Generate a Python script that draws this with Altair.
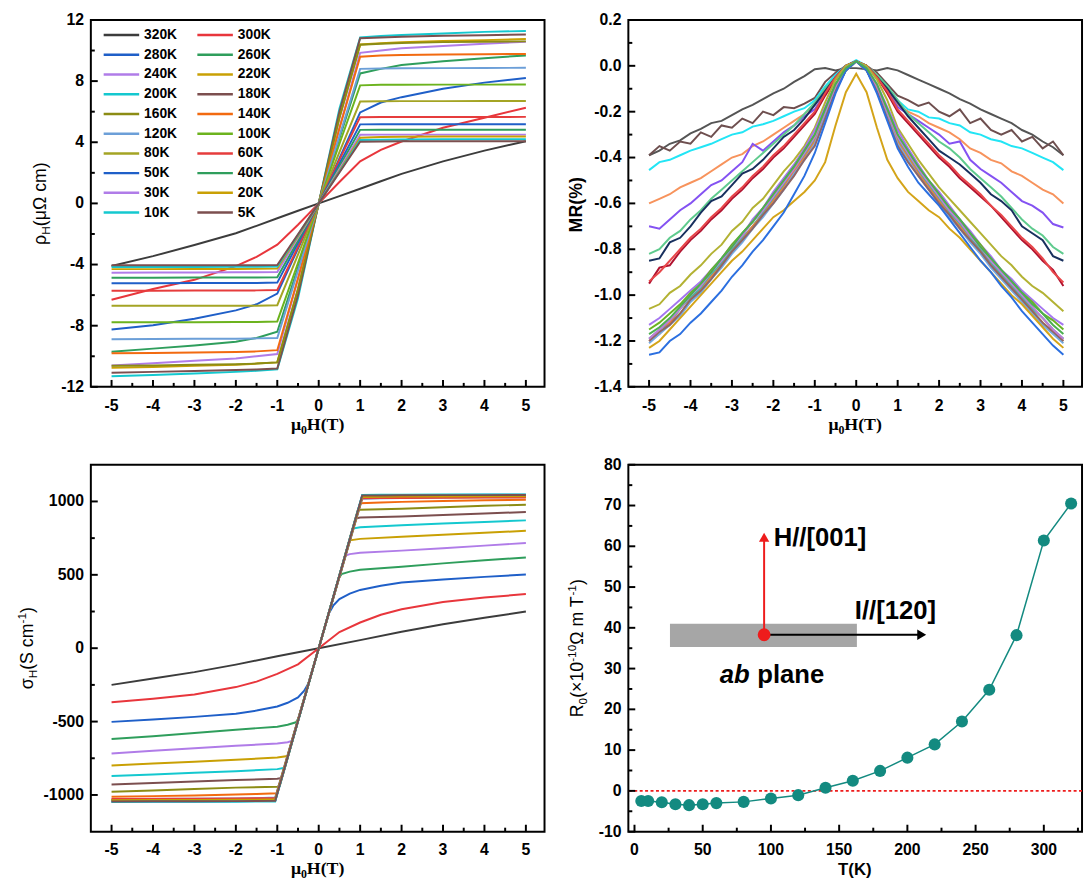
import altair as alt
import pandas as pd

SANS = "Liberation Sans"
SERIF = "Liberation Serif"

# ---------------- data ----------------
TEMPS = ["320K", "300K", "280K", "260K", "240K", "220K", "200K", "180K", "160K", "140K",
         "120K", "100K", "80K", "60K", "50K", "40K", "30K", "20K", "10K", "5K"]
COLORS = ["#3c3c3c", "#e8363c", "#1f5fc8", "#2f9e5c", "#b07ce8", "#c9a004", "#14c8cf", "#7c4f4f",
          "#8c8c14", "#f26a10", "#6c9fd8", "#6cb31e", "#a4a424", "#e63c3c", "#1f5fc8", "#2f9e5c",
          "#b07ce8", "#c9a004", "#14c8cf", "#7c4f4f"]

# rho_H (micro-ohm cm) vs field
H_RHO = [-5, -4, -3, -2, -1.5, -1, -0.5, 0, 0.5, 1, 1.5, 2, 3, 4, 5]
RHO = {
    "320K": [-4.10, -3.45, -2.72, -1.95, -1.47, -0.97, -0.48, 0, 0.48, 0.96, 1.45, 1.93, 2.75, 3.45, 4.07],
    "300K": [-6.30, -5.60, -5.00, -4.10, -3.50, -2.70, -1.40, 0, 1.40, 2.75, 3.50, 4.05, 4.95, 5.60, 6.26],
    "280K": [-8.25, -7.97, -7.55, -7.00, -6.60, -5.90, -2.95, 0, 2.95, 5.95, 6.60, 6.95, 7.50, 7.90, 8.20],
    "260K": [-9.70, -9.50, -9.30, -9.05, -8.80, -8.40, -4.20, 0, 4.25, 8.50, 8.80, 9.05, 9.30, 9.50, 9.68],
    "240K": [-10.60, -10.45, -10.30, -10.15, -10.00, -9.85, -4.95, 0, 4.95, 9.85, 10.00, 10.15, 10.30, 10.45, 10.58],
    "220K": [-10.75, -10.70, -10.62, -10.55, -10.48, -10.40, -5.60, 0, 5.60, 10.40, 10.48, 10.55, 10.62, 10.68, 10.75],
    "200K": [-11.30, -11.22, -11.12, -11.02, -10.95, -10.85, -6.20, 0, 6.20, 10.85, 10.95, 11.02, 11.12, 11.22, 11.28],
    "180K": [-11.08, -11.02, -10.96, -10.90, -10.86, -10.80, -6.00, 0, 6.00, 10.80, 10.85, 10.90, 10.96, 11.00, 11.05],
    "160K": [-10.62, -10.60, -10.56, -10.52, -10.48, -10.40, -5.60, 0, 5.60, 10.38, 10.45, 10.50, 10.55, 10.58, 10.60],
    "140K": [-9.80, -9.78, -9.75, -9.72, -9.68, -9.60, -4.90, 0, 4.90, 9.60, 9.68, 9.71, 9.74, 9.76, 9.78],
    "120K": [-8.88, -8.87, -8.86, -8.85, -8.83, -8.80, -4.40, 0, 4.40, 8.80, 8.82, 8.84, 8.85, 8.86, 8.87],
    "100K": [-7.78, -7.77, -7.77, -7.76, -7.76, -7.72, -3.90, 0, 3.90, 7.72, 7.76, 7.76, 7.77, 7.77, 7.78],
    "80K": [-6.70, -6.70, -6.70, -6.69, -6.69, -6.66, -3.35, 0, 3.35, 6.66, 6.68, 6.69, 6.69, 6.70, 6.70],
    "60K": [-5.72, -5.71, -5.70, -5.70, -5.69, -5.66, -2.85, 0, 2.85, 5.64, 5.65, 5.65, 5.65, 5.65, 5.66],
    "50K": [-5.22, -5.22, -5.21, -5.20, -5.20, -5.18, -2.60, 0, 2.60, 5.17, 5.18, 5.18, 5.18, 5.18, 5.18],
    "40K": [-4.86, -4.86, -4.85, -4.85, -4.85, -4.83, -2.42, 0, 2.42, 4.81, 4.82, 4.82, 4.82, 4.82, 4.82],
    "30K": [-4.53, -4.52, -4.52, -4.51, -4.51, -4.49, -2.25, 0, 2.25, 4.49, 4.50, 4.50, 4.50, 4.50, 4.50],
    "20K": [-4.30, -4.30, -4.29, -4.29, -4.28, -4.26, -2.14, 0, 2.14, 4.30, 4.34, 4.36, 4.37, 4.38, 4.38],
    "10K": [-4.16, -4.16, -4.16, -4.15, -4.15, -4.13, -2.07, 0, 2.07, 4.15, 4.17, 4.18, 4.19, 4.20, 4.20],
    "5K": [-4.05, -4.05, -4.05, -4.05, -4.04, -4.03, -2.02, 0, 2.02, 4.03, 4.05, 4.06, 4.06, 4.07, 4.07],
}

# MR (%) vs field
H_MR = [-5, -4.75, -4.5, -4.25, -4, -3.75, -3.5, -3.25, -3, -2.75, -2.5, -2.25, -2, -1.75, -1.5, -1.25,
        -1, -0.75, -0.5, -0.25, 0, 0.25, 0.5, 0.75, 1, 1.25, 1.5, 1.75, 2, 2.25, 2.5, 2.75, 3, 3.25,
        3.5, 3.75, 4, 4.25, 4.5, 4.75, 5]
MR_COLORS = ["#555555", "#6e4f4f", "#22e5f5", "#f7935c", "#8452f2", "#5fcb8e", "#18305e", "#b0122f",
             "#e8474a", "#b3b233", "#a475f0", "#6ab323", "#3fb7ad", "#f27d2e", "#74abe3", "#8f6666",
             "#c07ad8", "#d4a419", "#2b6fe0", "#4caf50"]
MR = {
    "320K": [-0.39, -0.37, -0.34, -0.325, -0.295, -0.275, -0.25, -0.24, -0.215, -0.19, -0.17, -0.145, -0.12, -0.1, -0.07, -0.045, -0.015, -0.01, -0.02, -0.01,
             -0.01, -0.015, -0.02, -0.01, -0.02, -0.04, -0.06, -0.08, -0.1, -0.12, -0.145, -0.165, -0.19, -0.21, -0.23, -0.25, -0.28, -0.3, -0.33, -0.355, -0.39],
    "300K": [-0.39, -0.35, -0.37, -0.33, -0.34, -0.29, -0.31, -0.26, -0.27, -0.23, -0.25, -0.2, -0.215, -0.18, -0.185, -0.165, -0.14, -0.07, -0.03, 0.0,
             0.02, 0.0, -0.03, -0.08, -0.13, -0.15, -0.175, -0.16, -0.2, -0.22, -0.19, -0.25, -0.23, -0.28, -0.3, -0.28, -0.33, -0.31, -0.36, -0.33, -0.39],
    "280K": [-0.455, -0.42, -0.41, -0.39, -0.37, -0.355, -0.34, -0.32, -0.3, -0.29, -0.265, -0.255, -0.24, -0.22, -0.2, -0.185, -0.15, -0.09, -0.04, 0.0,
             0.025, 0.0, -0.04, -0.09, -0.15, -0.19, -0.2, -0.225, -0.23, -0.25, -0.26, -0.29, -0.3, -0.32, -0.33, -0.35, -0.36, -0.38, -0.4, -0.42, -0.455],
    "260K": [-0.6, -0.58, -0.56, -0.53, -0.51, -0.49, -0.46, -0.43, -0.4, -0.385, -0.35, -0.33, -0.3, -0.27, -0.24, -0.21, -0.17, -0.11, -0.05, 0.0,
             0.02, 0.0, -0.04, -0.1, -0.17, -0.2, -0.22, -0.25, -0.27, -0.29, -0.32, -0.36, -0.38, -0.41, -0.425, -0.46, -0.48, -0.51, -0.54, -0.56, -0.6],
    "240K": [-0.7, -0.71, -0.67, -0.63, -0.6, -0.56, -0.52, -0.5, -0.46, -0.42, -0.34, -0.37, -0.33, -0.29, -0.26, -0.22, -0.19, -0.12, -0.05, 0.0,
             0.02, 0.0, -0.05, -0.11, -0.18, -0.21, -0.24, -0.27, -0.3, -0.34, -0.33, -0.41, -0.45, -0.48, -0.51, -0.55, -0.59, -0.61, -0.64, -0.69, -0.705],
    "220K": [-0.82, -0.8, -0.75, -0.72, -0.67, -0.63, -0.58, -0.54, -0.5, -0.46, -0.42, -0.38, -0.34, -0.3, -0.26, -0.21, -0.16, -0.1, -0.05, 0.0,
             0.02, 0.0, -0.04, -0.09, -0.15, -0.21, -0.25, -0.29, -0.33, -0.36, -0.4, -0.45, -0.49, -0.53, -0.57, -0.62, -0.67, -0.71, -0.74, -0.79, -0.82],
    "200K": [-0.85, -0.84, -0.77, -0.75, -0.7, -0.64, -0.59, -0.57, -0.52, -0.47, -0.45, -0.41, -0.36, -0.31, -0.28, -0.23, -0.17, -0.11, -0.05, 0.0,
             0.02, 0.0, -0.05, -0.1, -0.16, -0.22, -0.27, -0.32, -0.37, -0.4, -0.43, -0.47, -0.51, -0.56, -0.59, -0.63, -0.7, -0.73, -0.76, -0.83, -0.85],
    "180K": [-0.95, -0.88, -0.87, -0.81, -0.76, -0.72, -0.67, -0.63, -0.58, -0.54, -0.49, -0.45, -0.4, -0.36, -0.31, -0.26, -0.21, -0.13, -0.06, 0.0,
             0.02, 0.0, -0.05, -0.12, -0.2, -0.25, -0.3, -0.35, -0.4, -0.44, -0.49, -0.53, -0.57, -0.61, -0.66, -0.71, -0.76, -0.8, -0.85, -0.89, -0.96],
    "160K": [-0.94, -0.9, -0.85, -0.8, -0.75, -0.71, -0.66, -0.62, -0.57, -0.53, -0.48, -0.44, -0.39, -0.35, -0.3, -0.25, -0.2, -0.12, -0.05, 0.0,
             0.02, 0.0, -0.05, -0.11, -0.19, -0.24, -0.29, -0.34, -0.39, -0.43, -0.48, -0.52, -0.56, -0.61, -0.65, -0.7, -0.75, -0.79, -0.84, -0.9, -0.945],
    "140K": [-1.06, -1.04, -0.99, -0.96, -0.91, -0.87, -0.82, -0.78, -0.72, -0.68, -0.62, -0.58, -0.52, -0.46, -0.41, -0.35, -0.27, -0.16, -0.06, 0.0,
             0.02, 0.0, -0.06, -0.15, -0.27, -0.34, -0.41, -0.47, -0.53, -0.58, -0.63, -0.68, -0.73, -0.78, -0.83, -0.87, -0.92, -0.96, -0.99, -1.03, -1.07],
    "120K": [-1.13, -1.1, -1.06, -1.02, -0.98, -0.94, -0.89, -0.84, -0.78, -0.74, -0.67, -0.62, -0.55, -0.49, -0.43, -0.36, -0.28, -0.18, -0.08, -0.01,
             0.02, -0.01, -0.08, -0.18, -0.28, -0.36, -0.43, -0.5, -0.55, -0.61, -0.67, -0.72, -0.78, -0.83, -0.89, -0.93, -0.98, -1.02, -1.06, -1.1, -1.13],
    "100K": [-1.15, -1.12, -1.08, -1.04, -0.99, -0.95, -0.89, -0.84, -0.78, -0.73, -0.68, -0.62, -0.56, -0.5, -0.44, -0.37, -0.3, -0.19, -0.08, -0.01,
             0.02, -0.01, -0.09, -0.19, -0.3, -0.38, -0.45, -0.5, -0.56, -0.62, -0.67, -0.73, -0.78, -0.84, -0.89, -0.94, -0.99, -1.03, -1.08, -1.11, -1.15],
    "80K": [-1.19, -1.15, -1.12, -1.06, -1.01, -0.97, -0.91, -0.86, -0.8, -0.75, -0.7, -0.64, -0.58, -0.52, -0.45, -0.39, -0.32, -0.21, -0.1, -0.02,
            0.02, -0.02, -0.1, -0.2, -0.32, -0.39, -0.46, -0.52, -0.58, -0.64, -0.69, -0.75, -0.8, -0.86, -0.91, -0.96, -1.01, -1.06, -1.1, -1.15, -1.19],
    "60K": [-1.2, -1.17, -1.12, -1.08, -1.02, -0.98, -0.92, -0.87, -0.81, -0.76, -0.7, -0.65, -0.59, -0.53, -0.46, -0.4, -0.33, -0.22, -0.1, -0.02,
            0.02, -0.02, -0.1, -0.21, -0.33, -0.4, -0.47, -0.53, -0.59, -0.65, -0.7, -0.76, -0.81, -0.87, -0.92, -0.97, -1.02, -1.07, -1.12, -1.16, -1.2],
    "50K": [-1.21, -1.17, -1.13, -1.09, -1.03, -0.99, -0.93, -0.88, -0.82, -0.77, -0.71, -0.66, -0.6, -0.54, -0.47, -0.41, -0.34, -0.22, -0.1, -0.02,
            0.02, -0.02, -0.11, -0.22, -0.34, -0.41, -0.48, -0.54, -0.6, -0.66, -0.71, -0.77, -0.82, -0.88, -0.93, -0.98, -1.03, -1.08, -1.13, -1.17, -1.21],
    "40K": [-1.2, -1.16, -1.13, -1.08, -1.02, -0.98, -0.93, -0.87, -0.81, -0.76, -0.71, -0.65, -0.6, -0.54, -0.48, -0.41, -0.35, -0.23, -0.11, -0.02,
            0.02, -0.02, -0.11, -0.23, -0.35, -0.42, -0.48, -0.54, -0.6, -0.65, -0.71, -0.76, -0.81, -0.87, -0.92, -0.97, -1.02, -1.07, -1.12, -1.16, -1.2],
    "30K": [-1.19, -1.15, -1.11, -1.06, -1.0, -0.96, -0.9, -0.85, -0.79, -0.74, -0.68, -0.63, -0.57, -0.51, -0.45, -0.38, -0.31, -0.2, -0.09, -0.01,
            0.02, -0.01, -0.09, -0.2, -0.31, -0.38, -0.45, -0.51, -0.57, -0.63, -0.68, -0.74, -0.79, -0.85, -0.9, -0.95, -1.0, -1.05, -1.1, -1.15, -1.19],
    "20K": [-1.23, -1.2, -1.15, -1.1, -1.05, -1.0, -0.95, -0.9, -0.85, -0.81, -0.76, -0.71, -0.66, -0.63, -0.59, -0.55, -0.5, -0.42, -0.26, -0.115,
            -0.035, -0.115, -0.27, -0.41, -0.49, -0.55, -0.59, -0.63, -0.66, -0.71, -0.75, -0.8, -0.85, -0.9, -0.95, -1.0, -1.04, -1.09, -1.14, -1.19, -1.23],
    "10K": [-1.26, -1.25, -1.2, -1.17, -1.12, -1.08, -1.03, -0.98, -0.92, -0.87, -0.81, -0.76, -0.7, -0.64, -0.56, -0.48, -0.38, -0.25, -0.12, -0.02,
            0.02, -0.02, -0.12, -0.24, -0.36, -0.44, -0.51, -0.56, -0.61, -0.67, -0.73, -0.79, -0.85, -0.9, -0.96, -1.01, -1.07, -1.12, -1.17, -1.22, -1.26],
    "5K": [-1.17, -1.14, -1.1, -1.05, -1.0, -0.95, -0.9, -0.84, -0.79, -0.73, -0.68, -0.62, -0.56, -0.5, -0.44, -0.37, -0.3, -0.19, -0.08, -0.01,
           0.02, -0.01, -0.08, -0.19, -0.3, -0.37, -0.44, -0.5, -0.56, -0.62, -0.67, -0.73, -0.79, -0.84, -0.89, -0.94, -0.99, -1.04, -1.08, -1.13, -1.17],
}

# sigma_H (S/cm) vs field; each curve has its own field points (knee positions differ)
SIG_H = {
    "320K": [-5, -4, -3, -2, -1, 0, 1, 2, 3, 4, 5],
    "300K": [-5, -4, -3, -2, -1.5, -1, -0.5, 0, 0.5, 1, 1.5, 2, 3, 4, 5],
    "280K": [-5, -4, -3, -2, -1.5, -1, -0.75, -0.5, -0.35, -0.25, 0, 0.25, 0.35, 0.5, 0.75, 1, 1.5, 2, 3, 4, 5],
    "260K": [-5, -4, -3, -2, -1, -0.75, -0.55, -0.48, 0, 0.48, 0.55, 0.75, 1, 2, 3, 4, 5],
    "240K": [-5, -4, -3, -2, -1, -0.75, -0.65, 0, 0.65, 0.75, 1, 2, 3, 4, 5],
    "220K": [-5, -4, -3, -2, -1, -0.75, 0, 0.75, 1, 2, 3, 4, 5],
    "200K": [-5, -4, -3, -2, -1, -0.82, 0, 0.82, 1, 2, 3, 4, 5],
    "180K": [-5, -4, -3, -2, -1, -0.89, 0, 0.89, 1, 2, 3, 4, 5],
    "160K": [-5, -4, -3, -2, -1, -0.94, 0, 0.94, 1, 2, 3, 4, 5],
    "140K": [-5, -4, -3, -2, -1.5, -1.0, 0, 1.0, 1.5, 2, 3, 4, 5],
}
for _t in ["120K", "100K", "80K", "60K", "50K", "40K", "30K", "20K", "10K", "5K"]:
    SIG_H[_t] = [-5, -4, -3, -2, -1.5, -1.05, 0, 1.05, 1.5, 2, 3, 4, 5]
SIG_V = {
    "320K": [-250, -207, -163, -112, -55, 0, 55, 112, 163, 207, 250],
    "300K": [-369, -345, -315, -265, -228, -175, -110, 0, 110, 175, 228, 265, 315, 345, 369],
    "280K": [-502, -486, -468, -447, -425, -397, -372, -335, -290, -240, 0, 240, 290, 335, 372, 397, 425, 447, 468, 486, 502],
    "260K": [-618, -600, -578, -555, -535, -522, -505, -475, 0, 475, 505, 522, 535, 555, 578, 600, 618],
    "240K": [-717, -699, -681, -665, -650, -641, -632, 0, 632, 641, 650, 665, 681, 699, 717],
    "220K": [-800, -786, -773, -760, -745, -735, 0, 735, 745, 760, 773, 786, 800],
    "200K": [-871, -860, -849, -838, -824, -815, 0, 815, 824, 838, 849, 860, 871],
    "180K": [-928, -918, -908, -898, -890, -884, 0, 884, 890, 898, 908, 918, 928],
    "160K": [-978, -970, -960, -950, -944, -938, 0, 938, 944, 950, 960, 970, 978],
    "140K": [-1012, -1008, -1003, -997, -993, -988, 0, 988, 993, 997, 1003, 1008, 1012],
    "120K": [-1030, -1028, -1026, -1024, -1022, -1018, 0, 1018, 1022, 1024, 1026, 1028, 1030],
    "100K": [-1036, -1035, -1034, -1033, -1032, -1030, 0, 1030, 1032, 1033, 1034, 1035, 1036],
    "80K": [-1042, -1041, -1040, -1039, -1038, -1036, 0, 1036, 1038, 1039, 1040, 1041, 1042],
    "60K": [-1027, -1026, -1025, -1024, -1023, -1022, 0, 1022, 1023, 1024, 1025, 1026, 1027],
    "50K": [-1046, -1045, -1044, -1043, -1042, -1040, 0, 1040, 1042, 1043, 1044, 1045, 1046],
    "40K": [-1040, -1039, -1038, -1037, -1036, -1034, 0, 1034, 1036, 1037, 1038, 1039, 1040],
    "30K": [-1044, -1043, -1042, -1041, -1040, -1038, 0, 1038, 1040, 1041, 1042, 1043, 1044],
    "20K": [-1036, -1035, -1034, -1033, -1032, -1030, 0, 1030, 1032, 1033, 1034, 1035, 1036],
    "10K": [-1048, -1047, -1047, -1046, -1045, -1044, 0, 1044, 1045, 1046, 1047, 1047, 1048],
    "5K": [-1044, -1043, -1043, -1042, -1041, -1040, 0, 1040, 1041, 1042, 1043, 1043, 1044],
}

# R0 vs T
T_R0 = [5, 10, 20, 30, 40, 50, 60, 80, 100, 120, 140, 160, 180, 200, 220, 240, 260, 280, 300, 320]
R0 = [-2.5, -2.5, -2.8, -3.3, -3.5, -3.3, -3.0, -2.7, -1.85, -1.05, 0.75, 2.5, 4.9, 8.15, 11.4, 17.0,
      24.8, 38.2, 61.4, 70.5]

# tick values / labels
XMAJ = [-5, -4, -3, -2, -1, 0, 1, 2, 3, 4, 5]
XMIN = [-4.5, -3.5, -2.5, -1.5, -0.5, 0.5, 1.5, 2.5, 3.5, 4.5]
Y1MAJ = [-12, -8, -4, 0, 4, 8, 12]
Y1MIN = [-10, -6, -2, 2, 6, 10]
Y2MAJ = [-1.4, -1.2, -1.0, -0.8, -0.6, -0.4, -0.2, 0.0, 0.2]
Y2MIN = [-1.3, -1.1, -0.9, -0.7, -0.5, -0.3, -0.1, 0.1]
Y3MAJ = [-1000, -500, 0, 500, 1000]
Y3MIN = [-750, -250, 250, 750]
X4MAJ = [0, 50, 100, 150, 200, 250, 300]
X4MIN = [25, 75, 125, 175, 225, 275, 325]
Y4MAJ = [-10, 0, 10, 20, 30, 40, 50, 60, 70, 80]
Y4MIN = [-5, 5, 15, 25, 35, 45, 55, 65, 75]

# ---------------- helpers ----------------
W, HT = 460, 372
CW = {' ': 278, '(': 333, ')': 333, '-': 333, '%': 889, '×': 584, 'μ': 576, 'Ω': 768, 'ρ': 575,
      'σ': 620, 'c': 500, 'm': 833, 'H': 722, 'S': 667, 'T': 611, 'R': 722, 'M': 833, 'K': 667}
CW_SERIF = {'μ': 556, 'H': 778, '(': 333, ')': 333, 'T': 667, '0': 500}


def tw(s, size, serif=False, bold=False):
    table = CW_SERIF if serif else CW
    w = sum(table.get(ch, 556) for ch in s) * size / 1000.0
    return w * (1.05 if (bold and not serif) else 1.0)


def title_layers(pieces, cx, cy, vertical):
    """pieces: (text, size, shift, serif, bold)"""
    widths = [tw(p[0], p[1], p[3], p[4]) for p in pieces]
    total = sum(widths)
    pos = -total / 2.0
    out = []
    for (txt, size, shift, serif, bold), w in zip(pieces, widths):
        mk = alt.Chart(pd.DataFrame({"t": [txt]})).mark_text(
            align="left", baseline="middle", angle=270 if vertical else 0, dy=shift,
            font=SERIF if serif else SANS, fontSize=size,
            fontWeight="bold" if bold else "normal", color="black")
        if vertical:
            enc = dict(x=alt.value(cx), y=alt.value(cy - pos))
        else:
            enc = dict(x=alt.value(cx + pos), y=alt.value(cy))
        out.append(mk.encode(text="t:N", **enc))
        pos += w
    return out


def frame_layers(xsc, ysc, xmaj, xmin, ymaj, ymin, xfmt, yfmt, xlab_y):
    """inward major/minor ticks and bold tick labels"""
    out = []
    for vals, L in ((xmaj, 7), (xmin, 4)):
        out.append(alt.Chart(pd.DataFrame({"v": vals})).mark_rule(color="black", strokeWidth=2).encode(
            x=alt.X("v:Q", scale=xsc, axis=None), y=alt.value(HT), y2=alt.value(HT - L)))
    for vals, L in ((ymaj, 7), (ymin, 4)):
        out.append(alt.Chart(pd.DataFrame({"v": vals})).mark_rule(color="black", strokeWidth=2).encode(
            y=alt.Y("v:Q", scale=ysc, axis=None), x=alt.value(0), x2=alt.value(L)))
    out.append(alt.Chart(pd.DataFrame({"v": xmaj, "s": [xfmt(v) for v in xmaj]})).mark_text(
        align="center", baseline="top", font=SANS, fontSize=16, fontWeight="bold", color="black").encode(
        x=alt.X("v:Q", scale=xsc, axis=None), y=alt.value(HT + xlab_y), text="s:N"))
    out.append(alt.Chart(pd.DataFrame({"v": ymaj, "s": [yfmt(v) for v in ymaj]})).mark_text(
        align="right", baseline="middle", font=SANS, fontSize=16, fontWeight="bold", color="black").encode(
        y=alt.Y("v:Q", scale=ysc, axis=None), x=alt.value(-7), text="s:N"))
    return out


def fint(v):
    return str(int(round(v)))


def f1(v):
    return "%.1f" % v


def mu0h_title(dy_below):
    return title_layers([("μ", 18, 0, True, True), ("0", 12, 5, True, True), ("H(T)", 18, 0, True, True)],
                        W / 2, HT + dy_below, False)


XH = alt.Scale(domain=[-5.5, 5.45], nice=False, zero=False)

# ---------------- panel 1: rho_H ----------------
rows = []
for t in TEMPS:
    for h, v in zip(H_RHO, RHO[t]):
        rows.append({"H": h, "v": v, "T": t})
df_rho = pd.DataFrame(rows)
Y1 = alt.Scale(domain=[-12, 12], nice=False, zero=False)
C1 = alt.Scale(domain=TEMPS, range=COLORS)
lines1 = alt.Chart(df_rho).mark_line(strokeWidth=2).encode(
    x=alt.X("H:Q", scale=XH, axis=None), y=alt.Y("v:Q", scale=Y1, axis=None),
    color=alt.Color("T:N", scale=C1, legend=None))


# legend (two columns, read row by row) laid out in pixels, mapped into the panel's data units
def px_h(px):
    return -5.5 + px * 10.95 / W


def py_rho(py):
    return 12 - py * 24.0 / HT


leg_rows = [i // 2 for i in range(len(TEMPS))]
leg_cols = [i % 2 for i in range(len(TEMPS))]
df_leg = pd.DataFrame({
    "T": TEMPS,
    "x1": [px_h(13 + 95 * c) for c in leg_cols],
    "x2": [px_h(49 + 95 * c) for c in leg_cols],
    "xt": [px_h(54 + 95 * c) for c in leg_cols],
    "y": [py_rho(15.3 + 20 * r) for r in leg_rows],
})
leg_sym = alt.Chart(df_leg).mark_rule(strokeWidth=2.5).encode(
    x=alt.X("x1:Q", scale=XH, axis=None), x2="x2:Q", y=alt.Y("y:Q", scale=Y1, axis=None),
    color=alt.Color("T:N", scale=C1, legend=None))
leg_txt = alt.Chart(df_leg).mark_text(align="left", baseline="middle", font=SANS, fontSize=14,
                                       fontWeight="bold", color="black").encode(
    x=alt.X("xt:Q", scale=XH, axis=None), y=alt.Y("y:Q", scale=Y1, axis=None), text="T:N")

p1 = alt.layer(
    lines1, leg_sym, leg_txt,
    *frame_layers(XH, Y1, XMAJ, XMIN, Y1MAJ, Y1MIN, fint, fint, 11),
    *title_layers([("ρ", 18, 0, False, False), ("H", 12, 5, False, False), ("(μΩ cm)", 18, 0, False, False)],
                  -50, HT / 2, True),
    *mu0h_title(39),
).properties(width=W, height=HT)

# ---------------- panel 2: MR ----------------
rows = []
for t in TEMPS:
    for h, v in zip(H_MR, MR[t]):
        rows.append({"H": h, "v": v, "T": t})
df_mr = pd.DataFrame(rows)
Y2 = alt.Scale(domain=[-1.4, 0.2], nice=False, zero=False)
lines2 = alt.Chart(df_mr).mark_line(strokeWidth=2).encode(
    x=alt.X("H:Q", scale=XH, axis=None), y=alt.Y("v:Q", scale=Y2, axis=None),
    color=alt.Color("T:N", scale=alt.Scale(domain=TEMPS, range=MR_COLORS), legend=None))
p2 = alt.layer(
    lines2,
    *frame_layers(XH, Y2, XMAJ, XMIN, Y2MAJ, Y2MIN, fint, f1, 11),
    *title_layers([("MR(%)", 18, 0, False, True)], -52, HT / 2, True),
    *mu0h_title(39),
).properties(width=W, height=HT)

# ---------------- panel 3: sigma_H ----------------
rows = []
for t in TEMPS:
    for h, v in zip(SIG_H[t], SIG_V[t]):
        rows.append({"H": h, "v": v, "T": t})
df_sig = pd.DataFrame(rows)
Y3 = alt.Scale(domain=[-1250, 1250], nice=False, zero=False)
lines3 = alt.Chart(df_sig).mark_line(strokeWidth=2).encode(
    x=alt.X("H:Q", scale=XH, axis=None), y=alt.Y("v:Q", scale=Y3, axis=None),
    color=alt.Color("T:N", scale=alt.Scale(domain=TEMPS, range=COLORS), legend=None))
p3 = alt.layer(
    lines3,
    *frame_layers(XH, Y3, XMAJ, XMIN, Y3MAJ, Y3MIN, fint, fint, 11),
    *title_layers([("σ", 18, 0, False, False), ("H", 12, 5, False, False), ("(S cm", 18, 0, False, False),
                   ("-1", 12, -6, False, False), (")", 18, 0, False, False)], -64, HT / 2, True),
    *mu0h_title(38),
).properties(width=W, height=HT)

# ---------------- panel 4: R0 vs T ----------------
TEAL = "#138a80"
RED = "#ee1c1c"
X4 = alt.Scale(domain=[-4.5, 328], nice=False, zero=False)
Y4 = alt.Scale(domain=[-10, 80], nice=False, zero=False)
df_r0 = pd.DataFrame({"T": T_R0, "R0": R0})
zero_line = alt.Chart(pd.DataFrame({"z": [0]})).mark_rule(color=RED, strokeWidth=2, strokeDash=[3, 2.5]).encode(
    y=alt.Y("z:Q", scale=Y4, axis=None))
line4 = alt.Chart(df_r0).mark_line(color=TEAL, strokeWidth=1.5).encode(
    x=alt.X("T:Q", scale=X4, axis=None), y=alt.Y("R0:Q", scale=Y4, axis=None))
pts4 = alt.Chart(df_r0).mark_circle(color=TEAL, size=150, opacity=1).encode(
    x=alt.X("T:Q", scale=X4, axis=None), y=alt.Y("R0:Q", scale=Y4, axis=None))

# inset sketch (annotation, data coordinates of the panel)
slab = alt.Chart(pd.DataFrame({"a": [26], "b": [163], "c": [35.3], "d": [41.0]})).mark_rect(color="#a6a6a6").encode(
    x=alt.X("a:Q", scale=X4, axis=None), x2="b:Q", y=alt.Y("c:Q", scale=Y4, axis=None), y2="d:Q")
h_arrow = alt.Chart(pd.DataFrame({"a": [95], "c": [38.3], "d": [61.5]})).mark_rule(color=RED, strokeWidth=2).encode(
    x=alt.X("a:Q", scale=X4, axis=None), y=alt.Y("c:Q", scale=Y4, axis=None), y2="d:Q")
h_head = alt.Chart(pd.DataFrame({"a": [95], "c": [62.2]})).mark_point(
    shape="triangle-up", filled=True, size=110, color=RED, opacity=1).encode(
    x=alt.X("a:Q", scale=X4, axis=None), y=alt.Y("c:Q", scale=Y4, axis=None))
i_arrow = alt.Chart(pd.DataFrame({"a": [95], "b": [208], "c": [38.3]})).mark_rule(color="black", strokeWidth=2).encode(
    x=alt.X("a:Q", scale=X4, axis=None), x2="b:Q", y=alt.Y("c:Q", scale=Y4, axis=None))
i_head = alt.Chart(pd.DataFrame({"a": [210.5], "c": [38.3]})).mark_point(
    shape="triangle-right", filled=True, size=110, color="black", opacity=1).encode(
    x=alt.X("a:Q", scale=X4, axis=None), y=alt.Y("c:Q", scale=Y4, axis=None))
dot = alt.Chart(pd.DataFrame({"a": [95], "c": [38.3]})).mark_circle(color=RED, size=170, opacity=1).encode(
    x=alt.X("a:Q", scale=X4, axis=None), y=alt.Y("c:Q", scale=Y4, axis=None))


def label(txt, xv, yv, dx=0, italic=False):
    return alt.Chart(pd.DataFrame({"t": [txt], "a": [xv], "c": [yv]})).mark_text(
        align="left", baseline="middle", font=SANS, fontSize=26, fontWeight="bold",
        fontStyle="italic" if italic else "normal", color="black", dx=dx).encode(
        text="t:N", x=alt.X("a:Q", scale=X4, axis=None), y=alt.Y("c:Q", scale=Y4, axis=None))


p4 = alt.layer(
    zero_line, line4, pts4, slab, h_arrow, h_head, i_arrow, i_head, dot,
    label("H//[001]", 102, 62.0),
    label("I//[120]", 161.5, 44.0),
    label("ab", 62.5, 28.5, italic=True),
    label("plane", 62.5, 28.5, dx=38),
    *frame_layers(X4, Y4, X4MAJ, X4MIN, Y4MAJ, Y4MIN, fint, fint, 11),
    *title_layers([("R", 18, 0, False, False), ("0", 12, 5, False, False), ("(×10", 18, 0, False, False),
                   ("-10", 12, -6, False, False), ("Ω m T", 18, 0, False, False), ("-1", 12, -6, False, False),
                   (")", 18, 0, False, False)], -51, HT / 2, True),
    *title_layers([("T(K)", 17, 0, False, True)], W / 2, HT + 39, False),
).properties(width=W, height=HT)

chart = alt.concat(p1, p2, p3, p4, columns=2, spacing={"row": 19, "column": 20}).resolve_scale(
    color="independent").properties(padding={"left": 7, "top": -3, "right": 0, "bottom": 0}).configure(
    font=SANS).configure_view(stroke="black", strokeWidth=2)

chart.save("out.html", embed_options={"renderer": "svg", "actions": False})
